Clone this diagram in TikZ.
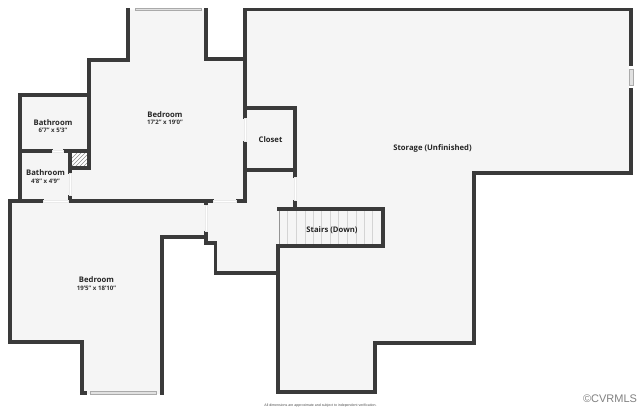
\documentclass[tikz,border=0pt]{standalone}
\usepackage{fontspec}
\setmainfont{Open Sans}
\newfontfamily\liberation{Liberation Sans}
\definecolor{wallc}{HTML}{3A3A3A}
\definecolor{floorc}{HTML}{F5F5F5}
\definecolor{thinc}{HTML}{D4D4D4}
\tikzset{
  wall/.style={draw=wallc,line width=3.7pt,line cap=rect,line join=miter},
  gap/.style={fill=white,draw=thinc!50!white,line width=0.35pt},
  tread/.style={draw=thinc,line width=0.7pt},
  winbox/.style={fill=thinc!70!white,draw=thinc!80!black,line width=0.4pt},
  roomname/.style={font=\fontsize{7.7pt}{9pt}\selectfont\bfseries,text=black!85,inner sep=0pt},
  roomsize/.style={font=\fontsize{6.1pt}{7pt}\selectfont\bfseries,text=black!80,inner sep=0pt}
}
\begin{document}
\begin{tikzpicture}[x=1pt,y=-1pt]
\useasboundingbox (0,0) rectangle (640,410);
% floor
\fill[floorc] (128,9.5) -- (206,9.5) -- (206,59) -- (245,59) -- (245,9.5) -- (631,9.5) -- (631,173) -- (474,173) -- (474,343) -- (375,343) -- (375,392) -- (278,392) -- (278,273) -- (215.5,273) -- (215.5,243) -- (206,243) -- (206,237) -- (162,237) -- (162,394) -- (82,394) -- (82,342) -- (9.7,342) -- (9.7,201) -- (20,201) -- (20,95) -- (89,95) -- (89,60) -- (128,60) -- cycle;
% stairs treads
\foreach \tx in {287,296,305,313,321,330,338,347,356,364,372}
  \draw[tread] (\tx,210) -- (\tx,245);
\draw[draw=thinc!70!black,line width=0.6pt] (279,209) -- (279,246);
% hatched shaft
\begin{scope}
\clip (71,152) rectangle (88,167);
\fill[white] (71,152) rectangle (88,167);
\foreach \hx in {60,64,...,110}
  \draw[black!45,line width=0.45pt] (\hx,170) -- (\hx+20,150);
\end{scope}
% walls
\draw[wall] (128,60) -- (128,9.5);
\draw[wall] (206,9.5) -- (206,59) -- (245,59);
\draw[wall] (128,60) -- (89,60) -- (89,168) -- (70,168) -- (70,172);
\draw[wall] (89,95) -- (20,95) -- (20,201);
\draw[wall] (20,151) -- (51,151);
\draw[wall] (65,151) -- (89,151);
\draw[wall] (70,151) -- (70,168);
\draw[wall] (9.7,201) -- (42,201);
\draw[wall] (70,197) -- (70,201) -- (212,201);
\draw[wall] (238,201) -- (245,201);
\draw[wall] (245,117) -- (245,9.5) -- (631,9.5) -- (631,65);
\draw[wall] (631,88) -- (631,173) -- (474,173) -- (474,343) -- (375,343) -- (375,392) -- (278,392) -- (278,246) -- (383,246) -- (383,209) -- (279,209);
\draw[wall] (245,143) -- (245,201);
\draw[wall] (245,108) -- (295,108) -- (295,176);
\draw[wall] (245,170) -- (295,170);
\draw[wall] (295,202) -- (295,209);
\draw[wall] (9.7,201) -- (9.7,342) -- (82,342) -- (82,393) -- (85,393);
\draw[wall] (162,393) -- (162,237) -- (206,237);
\draw[wall] (206,201) -- (206,203);
\draw[wall] (206,233) -- (206,243) -- (215.5,243) -- (215.5,273) -- (278,273);
% doors
\draw[gap] (52.5,149.8) rectangle (63.5,152.2);
\draw[gap] (43.5,199.8) rectangle (68.5,202.2);
\draw[gap] (68.8,173.5) rectangle (71.2,195.5);
\draw[gap] (213.5,199.8) rectangle (236.5,202.2);
\draw[gap] (204.8,205) rectangle (207.2,231.5);
\draw[gap] (243.8,118.5) rectangle (246.2,141.5);
\draw[gap] (293.8,177.5) rectangle (296.2,200.5);
% windows
\draw[winbox] (135,7.8) rectangle (201,10.6);
\draw[winbox] (90,391.5) rectangle (156,393.8);
\fill[white] (629.3,66) rectangle (632.8,70);
\fill[white] (629.3,84) rectangle (632.8,88);
\draw[winbox] (629.3,69) rectangle (632.8,85);
% labels
\node[roomname] (bed1) at (165,114.3) {Bedroom};
\node[roomsize] (bed1s) at (165,122.3) {17'2" x 19'0"};
\node[roomname] (bath1) at (53,122.3) {Bathroom};
\node[roomsize] (bath1s) at (53,130.8) {6'7" x 5'3"};
\node[roomname] (bath2) at (45.5,172.5) {Bathroom};
\node[roomsize] (bath2s) at (45.5,181.3) {4'8" x 4'9"};
\node[roomname] (closet) at (270.5,139.5) {Closet};
\node[roomname] (storage) at (432.5,148.2) {Storage (Unfinished)};
\node[roomname] (stairs) at (332,230.2) {Stairs (Down)};
\node[roomname] (bed2) at (96.5,279.5) {Bedroom};
\node[roomsize] (bed2s) at (96.5,288.3) {19'5" x 18'10"};
\node[inner sep=0pt,text=black!70,font=\liberation\fontsize{3.55pt}{4pt}\selectfont] (note) at (320.5,406) {All dimensions are approximate and subject to independent verification.};
\node[inner sep=0pt,text=black!50,font=\liberation\fontsize{11pt}{12pt}\selectfont] (copy) at (610,399) {©CVRMLS};
\end{tikzpicture}
\end{document}
